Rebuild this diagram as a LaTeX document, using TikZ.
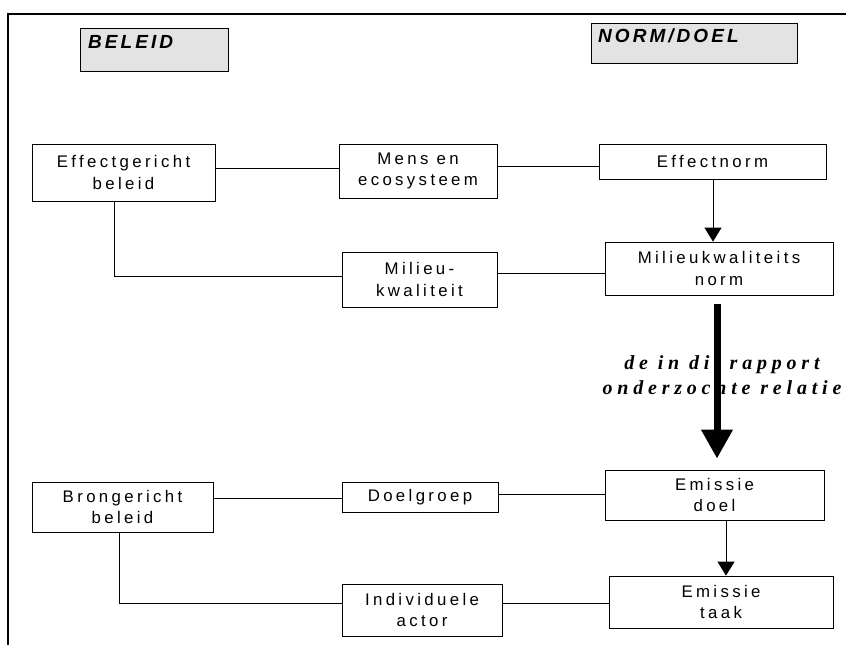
\documentclass[tikz,border=0pt]{standalone}
\usepackage{fontspec}
\setmainfont{Liberation Sans}
\newfontfamily\boxfont[LetterSpace=20]{Liberation Sans}
\newfontfamily\headfont[LetterSpace=16]{Liberation Sans}
\newfontfamily\notefont[LetterSpace=24]{Liberation Serif}
\usetikzlibrary{arrows.meta}
\begin{document}
\begin{tikzpicture}[x=1pt,y=-1pt,
  box/.style={draw,line width=0.8pt,inner sep=0pt,align=center,
    font=\boxfont\fontsize{16.8}{21.5}\selectfont},
  head/.style={draw,line width=0.8pt,fill=black!11,inner sep=0pt},
  headtxt/.style={inner sep=0pt,anchor=west,font=\headfont\bfseries\itshape\fontsize{19}{20}\selectfont},
  conn/.style={line width=0.7pt},
  arr/.style={line width=0.9pt,-{Triangle[width=17pt,length=14pt]}},
  bigarr/.style={line width=7pt,-{Triangle[width=30pt,length=29pt]}}
]
\useasboundingbox (0,0) rectangle (846,645);
% frame
\draw[line width=2.5pt] (846,14) -- (8,14) -- (8,645);
% headers
\node[head,minimum width=148pt,minimum height=43pt] (beleid) at (154,49.5) {};
\node[headtxt] (beleidtxt) at (88,42) {BELEID};
\node[head,minimum width=206pt,minimum height=40pt] (normdoel) at (694,43) {};
\node[headtxt] (normdoeltxt) at (598,36) {NORM/DOEL};
% boxes
\node[box,minimum width=183pt,minimum height=57pt] (eff) at (123.5,172.5) {Effectgericht\\beleid};
\node[box,minimum width=158pt,minimum height=54pt] (mens) at (418,171) {Mens en\\ecosysteem};
\node[box,minimum width=227pt,minimum height=35pt] (enorm) at (712.5,161.5) {Effectnorm};
\node[box,minimum width=228pt,minimum height=53pt] (mkn) at (719,268.5) {Milieukwaliteits\\norm};
\node[box,minimum width=155pt,minimum height=55pt] (mk) at (419.5,279.5) {Milieu-\\kwaliteit};
\node[box,minimum width=181pt,minimum height=50pt] (bron) at (122.5,507) {Brongericht\\beleid};
\node[box,minimum width=156pt,minimum height=30pt] (doel) at (420,497) {Doelgroep};
\node[box,minimum width=219pt,minimum height=50pt] (edoel) at (714.5,495) {Emissie\\doel};
\node[box,minimum width=224pt,minimum height=52pt] (etaak) at (721,602) {Emissie\\taak};
\node[box,minimum width=160pt,minimum height=52pt] (indiv) at (422,610) {Individuele\\actor};
% note text
\node[inner sep=0pt,align=center,font=\notefont\bfseries\itshape\fontsize{20}{25}\selectfont] (note) at (722,375) {de in dit rapport\\onderzochte relatie};
% connectors
\draw[conn] (eff.east |- 0,168) -- (mens.west |- 0,168);
\draw[conn] (mens.east |- 0,166) -- (enorm.west |- 0,166);
\draw[conn] (eff.south -| 114,0) |- (mk.west |- 0,276);
\draw[conn] (mk.east |- 0,273) -- (mkn.west |- 0,273);
\draw[arr] (enorm.south -| 713,0) -- (mkn.north -| 713,0);
\draw[bigarr,shorten <=9pt,shorten >=11pt] (mkn.south -| 717,0) -- (edoel.north -| 717,0);
\draw[conn] (bron.east |- 0,498) -- (doel.west |- 0,498);
\draw[conn] (doel.east |- 0,494) -- (edoel.west |- 0,494);
\draw[conn] (bron.south -| 119,0) |- (indiv.west |- 0,603);
\draw[conn] (indiv.east |- 0,603) -- (etaak.west |- 0,603);
\draw[arr] (edoel.south -| 726,0) -- (etaak.north -| 726,0);
\end{tikzpicture}
\end{document}
